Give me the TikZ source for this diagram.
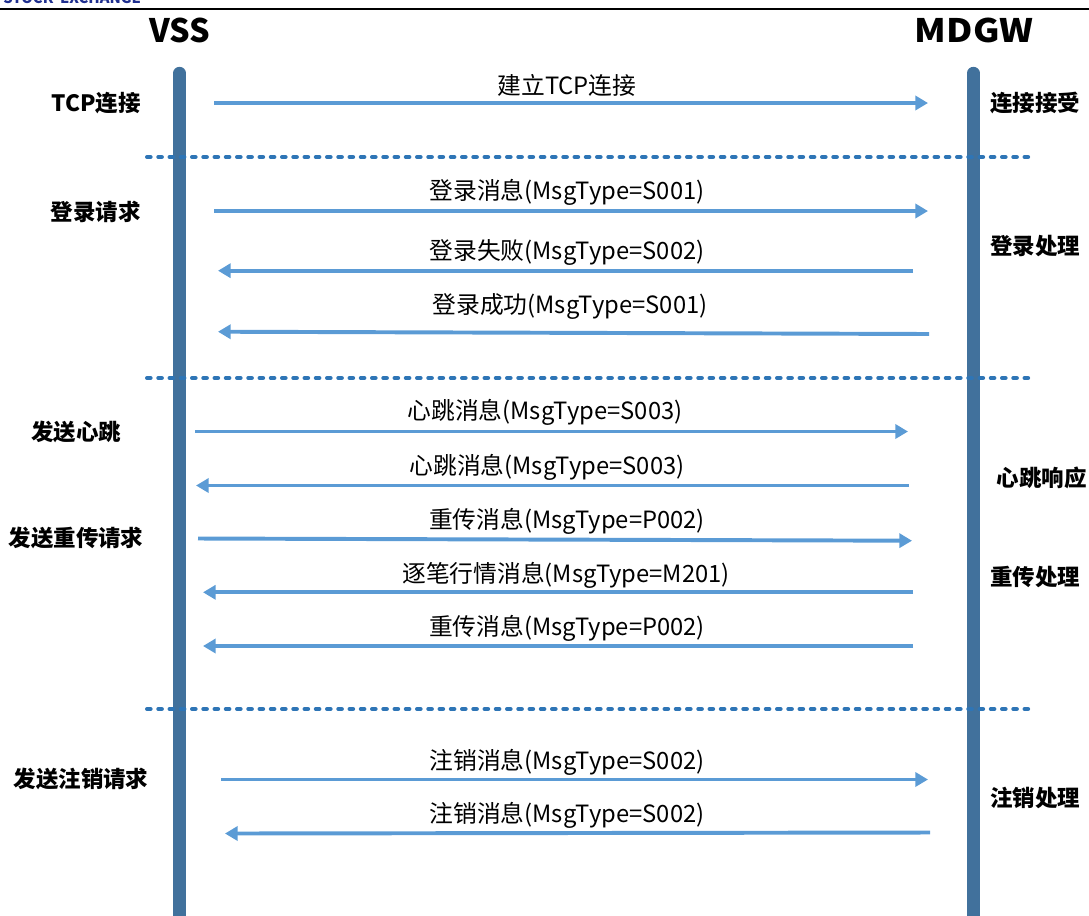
\documentclass[tikz,border=0pt]{standalone}
\usepackage{fontspec}
\setmainfont{Noto Sans CJK SC}
\usetikzlibrary{arrows.meta}

\definecolor{lifeblue}{HTML}{41719C}
\definecolor{msgblue}{HTML}{5B9BD5}
\definecolor{sepblue}{HTML}{2E75B6}
\definecolor{logoblue}{HTML}{1F2F8F}

\begin{document}
\begin{tikzpicture}[x=0.025cm,y=-0.025cm,
  lifeline/.style={line width=8.8pt,color=lifeblue,line cap=round},
  msg/.style={line width=2.8pt,color=msgblue,-{Triangle[length=9pt,width=10pt]}},
  sepline/.style={line width=2.8pt,color=sepblue,line cap=round,dash pattern=on 2.6pt off 5.4pt},
  msgtxt/.style={font=\fontsize{16.9}{19}\selectfont,inner sep=0pt},
  side/.style={font=\bfseries\fontsize{16}{18}\selectfont,inner sep=0pt},
  party/.style={font=\bfseries\fontsize{23}{26}\selectfont,inner sep=0pt}]

  \useasboundingbox (0,0) rectangle (1089,915);

  % header
  \node [anchor=base west,inner sep=0pt,text=logoblue,font=\bfseries\fontsize{10.5}{12}\selectfont] (logo) at (3,3) {STOCK\ \ EXCHANGE};
  \coordinate (hl) at (0,9);
  \coordinate (hr) at (1089,9);
  \draw [line width=1.4pt,color=black] (hl) -- (hr);

  \node [party] (vss) at (180,30) {VSS};
  \node [party,xscale=1.12] (mdgw) at (974,30) {MDGW};

  % lifelines
  \coordinate (vsstop) at (179.5,73);
  \coordinate (vssbot) at (179.5,935);
  \coordinate (mdgwtop) at (973.3,73);
  \coordinate (mdgwbot) at (973.3,935);
  \draw [lifeline] (vsstop) -- (vssbot);
  \draw [lifeline] (mdgwtop) -- (mdgwbot);

  % separators
  \coordinate (s1l) at (147,157);  \coordinate (s1r) at (1035,157);
  \coordinate (s2l) at (147,378);  \coordinate (s2r) at (1035,378);
  \coordinate (s3l) at (147,709);  \coordinate (s3r) at (1035,709);
  \draw [sepline] (s1l) -- (s1r);
  \draw [sepline] (s2l) -- (s2r);
  \draw [sepline] (s3l) -- (s3r);

  % side labels
  \node [side] (tcpreq) at (96,103) {TCP连接};
  \node [side] (loginreq) at (95.5,212) {登录请求};
  \node [side] (hbreq) at (76,432) {发送心跳};
  \node [side] (rtreq) at (76,538) {发送重传请求};
  \node [side] (logoutreq) at (81,779) {发送注销请求};

  \node [side] (tcpack) at (1035,103) {连接接受};
  \node [side] (loginproc) at (1035,246) {登录处理};
  \node [side] (hbresp) at (1041.5,478) {心跳响应};
  \node [side] (rtproc) at (1035,577) {重传处理};
  \node [side] (logoutproc) at (1035,798) {注销处理};

  % TCP
  \coordinate (a1s) at (214,103);  \coordinate (a1e) at (928,103);
  \draw [msg] (a1s) -- (a1e);
  \node [msgtxt] (m1) at (567,85) {建立TCP连接};

  % login
  \coordinate (a2s) at (214,211);  \coordinate (a2e) at (928,211);
  \coordinate (a3s) at (913,270.7);  \coordinate (a3e) at (218,270.7);
  \coordinate (a4s) at (929,334);  \coordinate (a4e) at (218,331.7);
  \draw [msg] (a2s) -- (a2e);
  \draw [msg] (a3s) -- (a3e);
  \draw [msg] (a4s) -- (a4e);
  \node [msgtxt] (m2) at (567,192) {登录消息(MsgType=S001)};
  \node [msgtxt] (m3) at (567,252) {登录失败(MsgType=S002)};
  \node [msgtxt] (m4) at (570,306) {登录成功(MsgType=S001)};

  % heartbeat and resend
  \coordinate (a5s) at (195,431.5);  \coordinate (a5e) at (908,431.5);
  \coordinate (a6s) at (909,485.5);  \coordinate (a6e) at (196,485.5);
  \coordinate (a7s) at (198,538.5);  \coordinate (a7e) at (912,540.7);
  \coordinate (a8s) at (913,592.3);  \coordinate (a8e) at (203,592.3);
  \coordinate (a9s) at (913,646);  \coordinate (a9e) at (203,646);
  \draw [msg] (a5s) -- (a5e);
  \draw [msg] (a6s) -- (a6e);
  \draw [msg] (a7s) -- (a7e);
  \draw [msg] (a8s) -- (a8e);
  \draw [msg] (a9s) -- (a9e);
  \node [msgtxt] (m5) at (545,412) {心跳消息(MsgType=S003)};
  \node [msgtxt] (m6) at (547,467) {心跳消息(MsgType=S003)};
  \node [msgtxt] (m7) at (567,521) {重传消息(MsgType=P002)};
  \node [msgtxt] (m8) at (566,575) {逐笔行情消息(MsgType=M201)};
  \node [msgtxt] (m9) at (567,628) {重传消息(MsgType=P002)};

  % logout
  \coordinate (a10s) at (221,779.5);  \coordinate (a10e) at (928,779.5);
  \coordinate (a11s) at (930,832.5);  \coordinate (a11e) at (225,833.5);
  \draw [msg] (a10s) -- (a10e);
  \draw [msg] (a11s) -- (a11e);
  \node [msgtxt] (m10) at (567,762) {注销消息(MsgType=S002)};
  \node [msgtxt] (m11) at (567,815) {注销消息(MsgType=S002)};

\end{tikzpicture}
\end{document}
